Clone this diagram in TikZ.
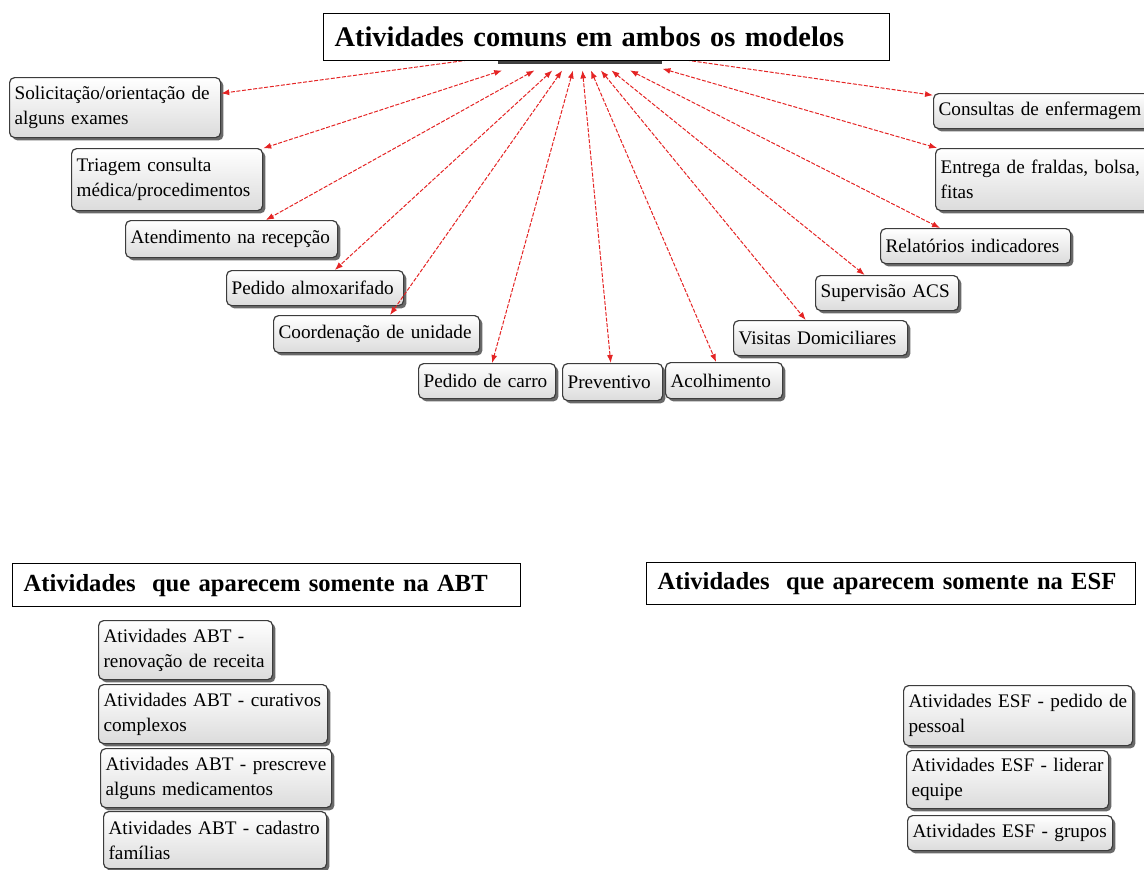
\documentclass[tikz,border=0pt]{standalone}
\usepackage{fontspec}
\setmainfont{Liberation Serif}
\usetikzlibrary{arrows.meta,shadows}
\definecolor{linkred}{RGB}{228,36,36}
\definecolor{boxline}{RGB}{60,60,60}
\newcommand\actfont{\fontsize{9.6}{12.5}\selectfont\hyphenpenalty=10000\relax}
\begin{document}
\begin{tikzpicture}[x=0.5pt,y=-0.5pt,>={Latex[length=4pt,width=3pt]},
    act/.style={draw=boxline,line width=0.6pt,rounded corners=2.5pt,top color=white,bottom color=black!14,
        drop shadow={shadow xshift=1.4pt,shadow yshift=-1.4pt,fill=black!65,opacity=.9},
        anchor=north west,align=left,inner xsep=2.5pt,inner ysep=2pt,font=\actfont},
    headbox/.style={draw,line width=0.6pt,fill=white,anchor=north west,align=left,inner xsep=5.5pt,
        font=\bfseries\fontsize{12.3}{14}\selectfont},
    link/.style={<->,linkred,line width=0.5pt,dash pattern=on 2pt off 0.8pt}]
    \clip (0,0) rectangle (1144,869);
    % hub under the title
    \node[minimum width=82pt,minimum height=25pt,inner sep=0pt] (hub) at (580,45) {};
    % common activities
    \node[act,text width=100.5pt,minimum height=30pt] (sol) at (9,77) {Solicitação/orientação de\\alguns exames};
    \node[act,text width=90.5pt,minimum height=31pt] (tri) at (71,148) {Triagem consulta\\médica/procedimentos};
    \node[act,text width=101pt,minimum height=18.5pt] (ate) at (125,220) {Atendimento na recepção};
    \node[act,text width=83.5pt,minimum height=17.5pt] (alm) at (226,270) {Pedido almoxarifado};
    \node[act,text width=98pt,minimum height=18.5pt] (coo) at (273,315) {Coordenação de unidade};
    \node[act,text width=63.5pt,minimum height=17.5pt] (car) at (418,363) {Pedido de carro};
    \node[act,text width=45pt,minimum height=18.5pt] (pre) at (562,363) {Preventivo};
    \node[act,text width=53.5pt,minimum height=18pt] (aco) at (665,362) {Acolhimento};
    \node[act,text width=82pt,minimum height=17.5pt] (vis) at (733,320) {Visitas Domiciliares};
    \node[act,text width=66.5pt,minimum height=17.5pt] (sup) at (815,275) {Supervisão ACS};
    \node[act,text width=90pt,minimum height=17.5pt] (rel) at (880,228) {Relatórios indicadores};
    \node[act,text width=106pt,minimum height=31pt] (ent) at (935,148) {Entrega de fraldas, bolsa,\\fitas};
    \node[act,text width=106pt,minimum height=17.5pt] (con) at (933,93) {Consultas de enfermagem};
    \foreach \n in {sol,tri,ate,alm,coo,car,pre,aco,vis,sup,rel,ent,con}
        \draw[link] (hub) -- (\n);
    \fill[black!75] (498,60) rectangle (662,64);
    \node[headbox,text width=272pt,minimum height=23.5pt,font=\bfseries\fontsize{14.2}{16}\selectfont] (head) at (323,13)
        {Atividades comuns em ambos os modelos};
    % only ABT
    \node[headbox,text width=243pt,minimum height=21.5pt] (abt) at (12,563) {Atividades\ \ que aparecem somente na ABT};
    \node[act,text width=82pt,minimum height=29.5pt] (abt1) at (98,620) {Atividades ABT -\\renovação de receita};
    \node[act,text width=109.5pt,minimum height=29.5pt] (abt2) at (98,684) {Atividades ABT - curativos\\complexos};
    \node[act,text width=110.5pt,minimum height=29.5pt] (abt3) at (100,748) {Atividades ABT - prescreve\\alguns medicamentos};
    \node[act,text width=106.5pt,minimum height=28.5pt] (abt4) at (103,811) {Atividades ABT - cadastro\\famílias};
    % only ESF
    \node[headbox,text width=233.5pt,minimum height=21pt] (esf) at (646,562) {Atividades\ \ que aparecem somente na ESF};
    \node[act,text width=109.5pt,minimum height=30pt] (esf1) at (903,685) {Atividades ESF - pedido de\\pessoal};
    \node[act,text width=96pt,minimum height=29pt] (esf2) at (906,750) {Atividades ESF - liderar\\equipe};
    \node[act,text width=97.5pt,minimum height=17.5pt] (esf3) at (907,815) {Atividades ESF - grupos};
\end{tikzpicture}
\end{document}
